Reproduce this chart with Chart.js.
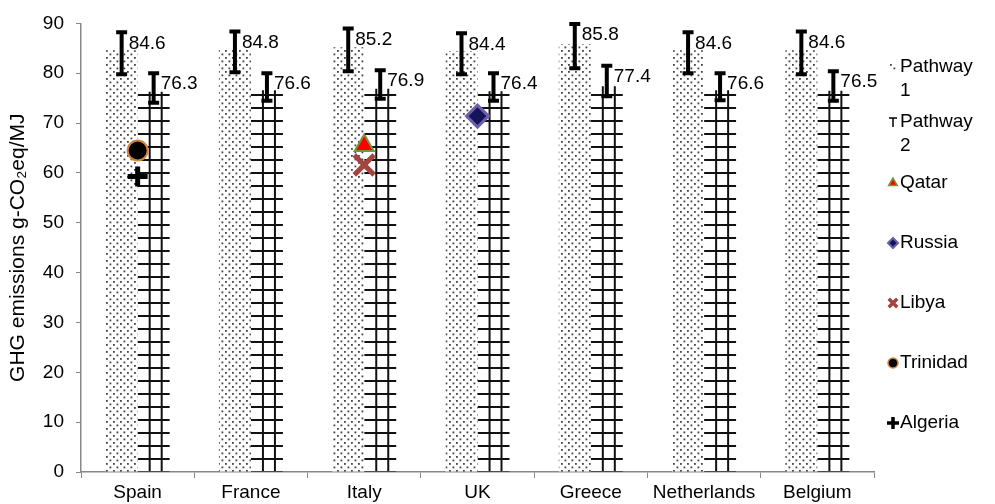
<!DOCTYPE html>
<html>
<head>
<meta charset="utf-8">
<script src="https://cdn.jsdelivr.net/npm/chart.js@4"></script>
<style>
  html, body { margin: 0; padding: 0; background: #fff; }
  #wrap { width: 995px; height: 504px; }
</style>
</head>
<body>
<div id="wrap"><canvas id="chart"></canvas></div>
<script>
const countries = ["Spain", "France", "Italy", "UK", "Greece", "Netherlands", "Belgium"];
const yTicks = [0, 10, 20, 30, 40, 50, 60, 70, 80, 90];

const pathway1 = [84.6, 84.8, 85.2, 84.4, 85.8, 84.6, 84.6];
const pathway1Low = [79.8, 80.2, 80.4, 79.8, 81.0, 80.0, 79.8];
const pathway1High = [88.2, 88.4, 89.0, 88.0, 89.9, 88.2, 88.4];

const pathway2 = [76.3, 76.6, 76.9, 76.4, 77.4, 76.6, 76.5];
const pathway2Low = [74.1, 74.5, 74.9, 74.5, 75.4, 74.6, 74.5];
const pathway2High = [80.0, 80.0, 80.6, 80.0, 81.5, 80.0, 80.4];

const qatar = [null, null, 65.5, null, null, null, null];
const russia = [null, null, null, 71.4, null, null, null];
const libya = [null, null, 61.6, null, null, null, null];
const trinidad = [64.5, null, null, null, null, null, null];
const algeria = [59.3, null, null, null, null, null, null];

const FONT = "'Liberation Sans', Arial, sans-serif";

// dotted texture for pathway 1
function dotPattern(ctx) {
  const c = document.createElement('canvas');
  c.width = 7; c.height = 7;
  const g = c.getContext('2d');
  g.fillStyle = '#fff';
  g.fillRect(0, 0, 7, 7);
  g.fillStyle = '#444';
  g.fillRect(1, 1, 1.8, 1.8);
  g.fillRect(4.5, 4.5, 1.8, 1.8);
  return ctx.createPattern(c, 'repeat');
}

// grid texture for pathway 2, lined up with the bar's left edge
function gridPattern(ctx, left) {
  const c = document.createElement('canvas');
  c.width = 36; c.height = 13;
  const g = c.getContext('2d');
  g.fillStyle = '#fff';
  g.fillRect(0, 0, 36, 13);
  g.fillStyle = '#111';
  g.fillRect(0, 0, 36, 2);
  g.fillRect(11, 0, 2, 13);
  g.fillRect(23, 0, 2, 13);
  const p = ctx.createPattern(c, 'repeat');
  if (p.setTransform) p.setTransform(new DOMMatrix().translate(left, 3));
  return p;
}

const errorBars = {
  id: 'errorBars',
  afterDatasetsDraw(chart) {
    const ctx = chart.ctx;
    const y = chart.scales.y;
    const sets = [
      [0, pathway1, pathway1Low, pathway1High],
      [1, pathway2, pathway2Low, pathway2High]
    ];
    ctx.save();
    sets.forEach(([di, vals, lo, hi]) => {
      const meta = chart.getDatasetMeta(di);
      meta.data.forEach((bar, i) => {
        const x = bar.x;
        const yt = y.getPixelForValue(hi[i]);
        const yb = y.getPixelForValue(lo[i]);
        ctx.strokeStyle = '#000';
        ctx.lineWidth = 4;
        ctx.lineCap = 'butt';
        ctx.beginPath();
        ctx.moveTo(x, yt); ctx.lineTo(x, yb);
        ctx.moveTo(x - 5.5, yt); ctx.lineTo(x + 5.5, yt);
        ctx.moveTo(x - 5.5, yb); ctx.lineTo(x + 5.5, yb);
        ctx.stroke();
        ctx.fillStyle = '#000';
        ctx.font = '19px ' + FONT;
        ctx.textAlign = 'left';
        ctx.textBaseline = 'middle';
        ctx.fillText(vals[i].toFixed(1), x + 7, yt + 11);
      });
    });
    ctx.restore();
  }
};

const sideLegend = {
  id: 'sideLegend',
  afterDraw(chart) {
    const ctx = chart.ctx;
    const ix = chart.chartArea.right + 19;
    const tx = ix + 7;
    ctx.save();
    ctx.font = '19px ' + FONT;
    ctx.fillStyle = '#000';
    ctx.textAlign = 'left';
    ctx.textBaseline = 'middle';

    // Pathway 1
    ctx.fillStyle = dotPattern(ctx);
    ctx.fillRect(ix - 4, 63, 8, 8);
    ctx.fillStyle = '#000';
    ctx.fillText('Pathway', tx, 67);
    ctx.fillText('1', tx, 91);

    // Pathway 2
    ctx.strokeStyle = '#000';
    ctx.lineWidth = 1.5;
    ctx.beginPath();
    ctx.moveTo(ix - 4, 118); ctx.lineTo(ix + 4, 118);
    ctx.moveTo(ix, 118); ctx.lineTo(ix, 127);
    ctx.stroke();
    ctx.fillText('Pathway', tx, 122);
    ctx.fillText('2', tx, 146);

    const items = [
      ['Qatar', 183, qatarStyle],
      ['Russia', 243, russiaStyle],
      ['Libya', 303, libyaStyle],
      ['Trinidad', 363, trinidadStyle],
      ['Algeria', 423, algeriaStyle]
    ];
    items.forEach(([label, yy, st]) => {
      ctx.fillStyle = st.bg;
      ctx.strokeStyle = st.border;
      ctx.lineWidth = st.legendBorder;
      Chart.helpers.drawPoint(ctx, {
        pointStyle: st.style, radius: st.legendRadius, rotation: 0, borderWidth: st.legendBorder
      }, ix, yy);
      ctx.fillStyle = '#000';
      ctx.fillText(label, tx, yy);
    });
    ctx.restore();
  }
};

const qatarStyle = { style: 'triangle', bg: '#ff0000', border: '#77933c', radius: 11, bw: 2, legendRadius: 5, legendBorder: 1.5 };
const russiaStyle = { style: 'rectRot', bg: '#14145a', border: '#6f5fa6', radius: 11, bw: 3, legendRadius: 5, legendBorder: 2 };
const libyaStyle = { style: 'crossRot', bg: '#a4443f', border: '#a4443f', radius: 14, bw: 5, legendRadius: 6, legendBorder: 3.5 };
const trinidadStyle = { style: 'circle', bg: '#000', border: '#d7843a', radius: 10, bw: 2, legendRadius: 5, legendBorder: 1.5 };
const algeriaStyle = { style: 'cross', bg: '#000', border: '#000', radius: 10, bw: 5, legendRadius: 6, legendBorder: 3.5 };

function markerSet(label, data, st) {
  return {
    type: 'line',
    label: label,
    data: data,
    showLine: false,
    pointStyle: st.style,
    pointRadius: st.radius,
    pointBackgroundColor: st.bg,
    pointBorderColor: st.border,
    pointBorderWidth: st.bw,
    order: -1
  };
}

const ctx = document.getElementById('chart').getContext('2d');
new Chart(ctx, {
  type: 'bar',
  data: {
    labels: countries,
    datasets: [
      {
        label: 'Pathway 1',
        data: pathway1,
        backgroundColor: c => dotPattern(c.chart.ctx),
        borderWidth: 0
      },
      {
        label: 'Pathway 2',
        data: pathway2,
        backgroundColor: c => {
          const xs = c.chart.scales.x;
          const left = xs ? xs.getPixelForValue(c.dataIndex) : 0;
          return gridPattern(c.chart.ctx, left);
        },
        borderWidth: 0
      },
      markerSet('Qatar', qatar, qatarStyle),
      markerSet('Russia', russia, russiaStyle),
      markerSet('Libya', libya, libyaStyle),
      markerSet('Trinidad', trinidad, trinidadStyle),
      markerSet('Algeria', algeria, algeriaStyle)
    ]
  },
  options: {
    responsive: true,
    maintainAspectRatio: false,
    animation: false,
    datasets: {
      bar: { categoryPercentage: 0.565, barPercentage: 1 }
    },
    layout: { padding: { left: 0, right: 121, top: 20, bottom: 0 } },
    plugins: {
      legend: { display: false },
      tooltip: { enabled: false }
    },
    scales: {
      x: {
        grid: { drawOnChartArea: false, drawTicks: true, tickLength: 6, color: '#888', offset: true },
        border: { color: '#888', width: 1.5 },
        ticks: { color: '#000', font: { family: FONT, size: 19 }, padding: 3, maxRotation: 0 },
        afterFit: s => { s.height = 32; }
      },
      y: {
        min: 0,
        max: 90,
        afterBuildTicks: s => { s.ticks = yTicks.map(v => ({ value: v })); },
        grid: { drawOnChartArea: false, drawTicks: true, tickLength: 5, color: '#888' },
        border: { color: '#888', width: 1.5 },
        ticks: { color: '#000', font: { family: FONT, size: 19 }, padding: 12 },
        title: {
          display: true,
          text: 'GHG emissions g-CO₂eq/MJ',
          color: '#000',
          font: { family: FONT, size: 21 },
          padding: { top: 6, bottom: 0 }
        },
        afterFit: s => { s.width = 81; }
      }
    }
  },
  plugins: [errorBars, sideLegend]
});
</script>
</body>
</html>
